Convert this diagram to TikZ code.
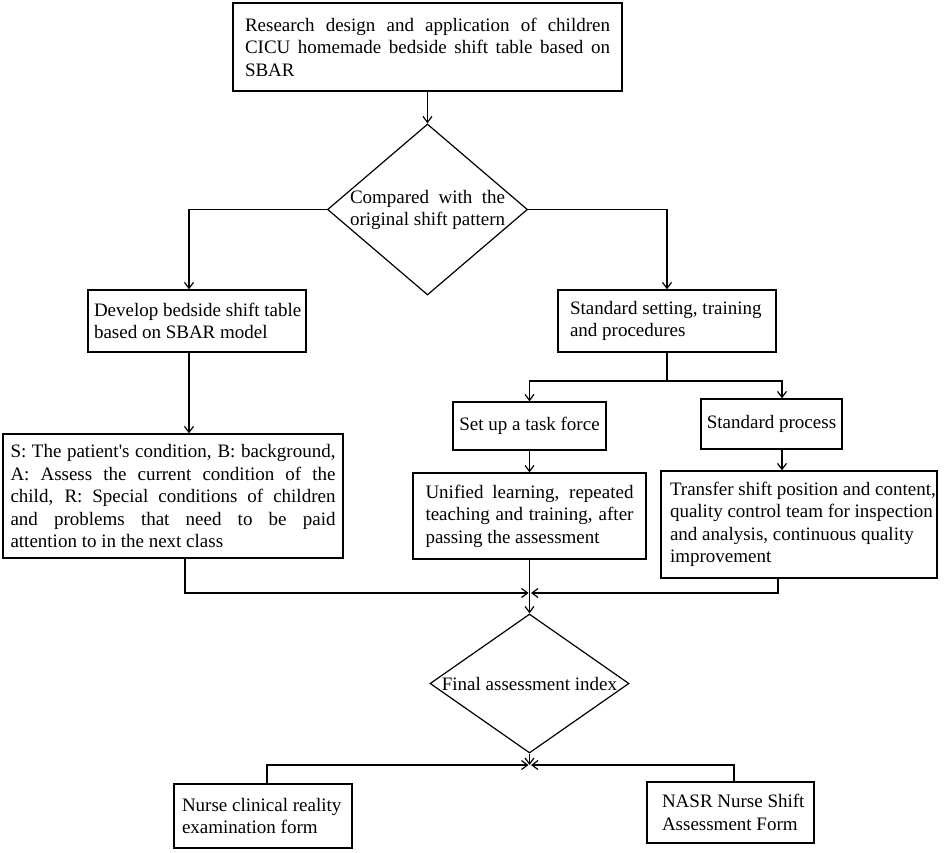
\documentclass[tikz,border=0pt]{standalone}
\usepackage{fontspec}
\setmainfont{Liberation Serif}
\usetikzlibrary{arrows.meta,shapes.geometric,calc}
\newcommand{\myjust}[2]{\makebox[#1][s]{#2}}
\newcommand{\myleft}[2]{\makebox[#1][l]{#2}}
\begin{document}
\begin{tikzpicture}[x=1pt,y=-1pt,
  every node/.style={font=\fontsize{19}{22.5}\selectfont},
  box/.style={draw, line width=1.2pt, inner sep=0pt, align=left},
  dia/.style={draw, diamond, line width=1.2pt, inner sep=0pt},
  lab/.style={inner sep=0pt, align=left},
  arr/.style={line width=1.2pt, -{Straight Barb[length=6pt,width=9pt]}},
  ln/.style={line width=1.2pt}]
\fill[white] (0,0) rectangle (945,853);
\useasboundingbox (0,0) rectangle (945,853);

\node[box, minimum width=389pt, minimum height=88pt] (top) at (427.5,47)
  {\myjust{365pt}{Research design and application of children}\\
   \myjust{365pt}{CICU homemade bedside shift table based on}\\
   \myleft{365pt}{SBAR}};
\node[dia, minimum width=200pt, minimum height=171pt] (d1) at (427.5,209.5) {};
\node[lab] (d1t) at (427.5,210)
  {\myjust{155pt}{Compared with the}\\ \myleft{155pt}{original shift pattern}};
\node[box, minimum width=218pt, minimum height=62pt] (dev) at (197,321)
  {\myleft{206pt}{Develop bedside shift table}\\ \myleft{206pt}{based on SBAR model}};
\node[box, minimum width=218pt, minimum height=62pt] (std) at (667,321)
  {\myleft{194pt}{Standard setting, training}\\ \myleft{194pt}{and procedures}};
\node[box, minimum width=340pt, minimum height=124pt] (sbar) at (173,496)
  {\myjust{325pt}{S: The patient\textquotesingle s condition, B: background,}\\
   \myjust{325pt}{A: Assess the current condition of the}\\
   \myjust{325pt}{child, R: Special conditions of children}\\
   \myjust{325pt}{and problems that need to be paid}\\
   \myleft{325pt}{attention to in the next class}};
\node[box, minimum width=153pt, minimum height=48pt] (task) at (529.5,426) {Set up a task force};
\node[box, minimum width=141pt, minimum height=50pt] (proc) at (771.5,424) {Standard process};
\node[box, minimum width=233pt, minimum height=86pt] (unif) at (529.5,516)
  {\myjust{208pt}{Unified learning, repeated}\\
   \myjust{208pt}{teaching and training, after}\\
   \myleft{208pt}{passing the assessment}};
\node[box, minimum width=276pt, minimum height=107pt] (trans) at (799,524.5)
  {\myleft{258pt}{Transfer shift position and content,}\\
   \myleft{258pt}{quality control team for inspection}\\
   \myleft{258pt}{and analysis, continuous quality}\\
   \myleft{258pt}{improvement}};
\node[dia, minimum width=199pt, minimum height=139pt] (d2) at (529.5,683.5) {};
\node[lab] (d2t) at (529.5,683.5) {Final assessment index};
\node[box, minimum width=178pt, minimum height=64pt] (nurse) at (263,816)
  {\myleft{162pt}{Nurse clinical reality}\\ \myleft{162pt}{examination form}};
\node[box, minimum width=167pt, minimum height=61pt] (nasr) at (730.5,812.5)
  {\myleft{137pt}{NASR Nurse Shift}\\ \myleft{137pt}{Assessment Form}};

\coordinate (j1) at (667,381);
\coordinate (m1) at (529.5,593);
\coordinate (m2) at (529.5,765);

\draw[arr] (top.south) -- (d1.north);
\draw[arr] (d1.west) -| ([xshift=-8pt]dev.north);
\draw[arr] (d1.east) -| (std.north);
\draw[arr] ([xshift=-8pt]dev.south) -- ([xshift=-8pt]dev.south |- sbar.north);
\draw[ln] (std.south) -- (j1);
\draw[arr] (j1) -| (task.north);
\draw[arr] (j1) -| ([xshift=10.5pt]proc.north);
\draw[arr] (task.south) -- (unif.north);
\draw[arr] ([xshift=10.5pt]proc.south) -- ([xshift=10.5pt]proc.south |- trans.north);
\draw[arr] (unif.south) -- (d2.north);
\draw[arr] ([xshift=12pt]sbar.south) |- ([xshift=-1pt]m1);
\draw[arr] ([xshift=-21pt]trans.south) |- ([xshift=1.5pt]m1);
\draw[arr] (d2.south) -- (m2);
\draw[arr] ([xshift=4pt]nurse.north) |- ([xshift=-1pt]m2);
\draw[arr] ([xshift=3.5pt]nasr.north) |- ([xshift=1.5pt]m2);
\end{tikzpicture}
\end{document}
